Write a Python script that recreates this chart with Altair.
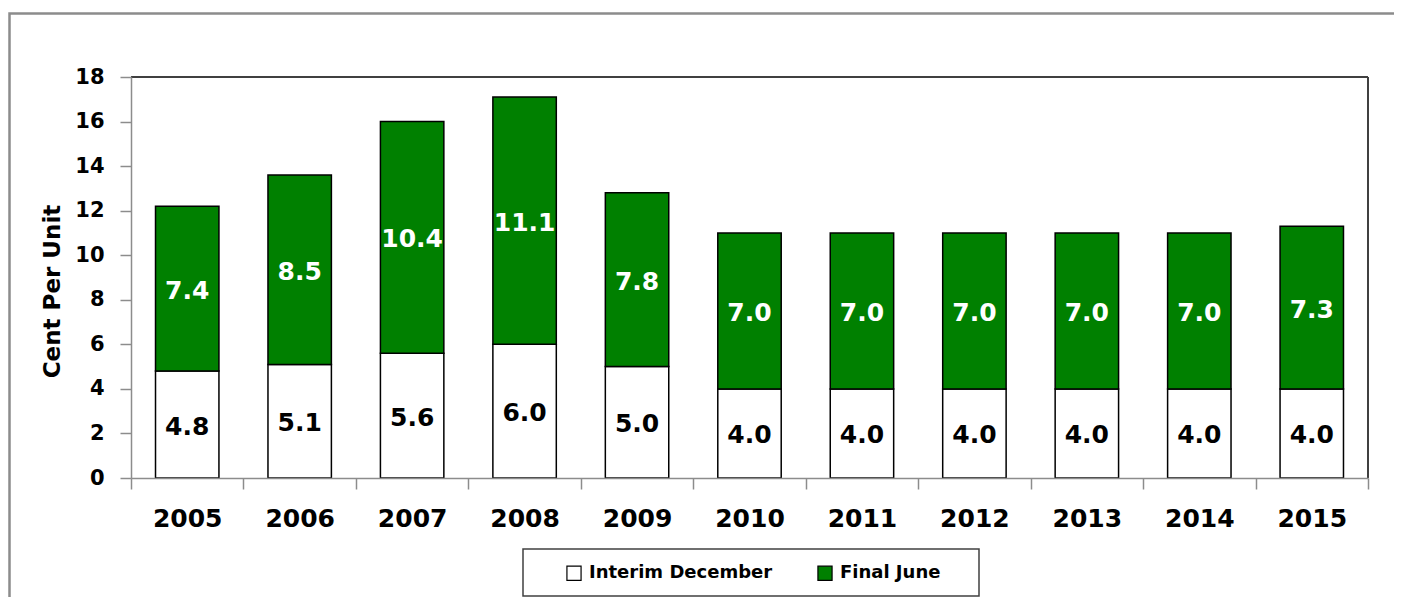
import altair as alt
import pandas as pd

years = ["2005", "2006", "2007", "2008", "2009", "2010", "2011", "2012", "2013", "2014", "2015"]
interim = [4.8, 5.1, 5.6, 6.0, 5.0, 4.0, 4.0, 4.0, 4.0, 4.0, 4.0]
final = [7.4, 8.5, 10.4, 11.1, 7.8, 7.0, 7.0, 7.0, 7.0, 7.0, 7.3]
series = ["Interim December", "Final June"]
colors = ["#ffffff", "#008000"]
label_colors = ["#000000", "#ffffff"]
y_ticks = [0, 2, 4, 6, 8, 10, 12, 14, 16, 18]

rows = []
for i, y in enumerate(years):
    rows.append({"year": y, "series": series[0], "value": interim[i], "ord": 0})
    rows.append({"year": y, "series": series[1], "value": final[i], "ord": 1})
df = pd.DataFrame(rows)

FONT = "DejaVu Sans"
W, H = 1237, 401

x_enc = alt.X(
    "year:N",
    sort=years,
    scale=alt.Scale(paddingInner=0, paddingOuter=0),
    axis=alt.Axis(
        title=None,
        labelAngle=0,
        labelFont=FONT,
        labelFontSize=25,
        labelFontWeight="bold",
        labelColor="#000000",
        labelPadding=17,
        tickBand="extent",
        tickSize=11,
        tickColor="#8c8c8c",
        tickWidth=1.5,
        domainColor="#8c8c8c",
        domainWidth=1.5,
        zindex=1,
    ),
)

bars = alt.Chart(df).mark_bar(
    stroke="#000000", strokeWidth=1.5, width=alt.RelativeBandSize(0.564)
).encode(
    x=x_enc,
    y=alt.Y(
        "value:Q",
        stack="zero",
        scale=alt.Scale(domain=[0, 18], nice=False),
        axis=alt.Axis(
            title="Cent Per Unit",
            titleFont=FONT,
            titleFontSize=23,
            titleFontWeight="bold",
            titleColor="#000000",
            titleAngle=270,
            titleX=-79,
            titleY=214,
            titleAlign="center",
            titleBaseline="middle",
            values=y_ticks,
            labelFont=FONT,
            labelFontSize=21,
            labelFontWeight="bold",
            labelColor="#000000",
            labelPadding=16,
            tickSize=11,
            tickColor="#8c8c8c",
            tickWidth=1.5,
            domainColor="#8c8c8c",
            domainWidth=1.5,
            grid=False,
            zindex=1,
        ),
    ),
    color=alt.Color(
        "series:N",
        scale=alt.Scale(domain=series, range=colors),
        legend=alt.Legend(
            title=None,
            orient="none",
            legendX=434,
            legendY=487,
            direction="horizontal",
            symbolType="square",
            symbolSize=200,
            symbolStrokeColor="#000000",
            symbolStrokeWidth=1.2,
            labelFont=FONT,
            labelFontSize=18,
            labelFontWeight="bold",
            labelColor="#000000",
            labelOffset=6,
            labelLimit=1000,
            columnPadding=42,
            padding=0,
        ),
    ),
    order=alt.Order("ord:Q"),
)

labels = alt.Chart(df).transform_stack(
    stack="value", groupby=["year"], as_=["v0", "v1"], sort=[alt.SortField("ord")]
).transform_calculate(
    mid="(datum.v0 + datum.v1) / 2"
).mark_text(font=FONT, fontSize=25, fontWeight="bold", baseline="middle", dy=2).encode(
    x=alt.X("year:N", sort=years),
    y=alt.Y("mid:Q"),
    text=alt.Text("value:Q", format=".1f"),
    color=alt.Color("series:N", scale=alt.Scale(domain=series, range=label_colors), legend=None),
)

deco = pd.DataFrame({"k": [0]})
frame_top = alt.Chart(deco).mark_rule(color="#404040", strokeWidth=2).encode(
    x=alt.value(0), x2=alt.value(W), y=alt.value(0)
)
frame_right = alt.Chart(deco).mark_rule(color="#404040", strokeWidth=2).encode(
    x=alt.value(W), y=alt.value(0), y2=alt.value(H)
)
legend_box = alt.Chart(deco).mark_rect(fill=None, stroke="#404040", strokeWidth=1.5).encode(
    x=alt.value(392), x2=alt.value(848), y=alt.value(472), y2=alt.value(519)
)
outer_box = alt.Chart(deco).mark_rect(fill=None, stroke="#8c8c8c", strokeWidth=2.5).encode(
    x=alt.value(-121.5), x2=alt.value(1400), y=alt.value(-63.5), y2=alt.value(700)
)

chart = alt.layer(
    bars, labels, frame_top, frame_right, legend_box, outer_box
).resolve_scale(color="independent").properties(
    width=W,
    height=H,
    autosize=alt.AutoSizeParams(type="none"),
    padding={"left": 123, "top": 69, "right": 26, "bottom": 119},
).configure_view(
    stroke="#404040", strokeWidth=1.5
).configure(background="#ffffff")

chart.save("out.html", embed_options={"renderer": "svg", "actions": False})
